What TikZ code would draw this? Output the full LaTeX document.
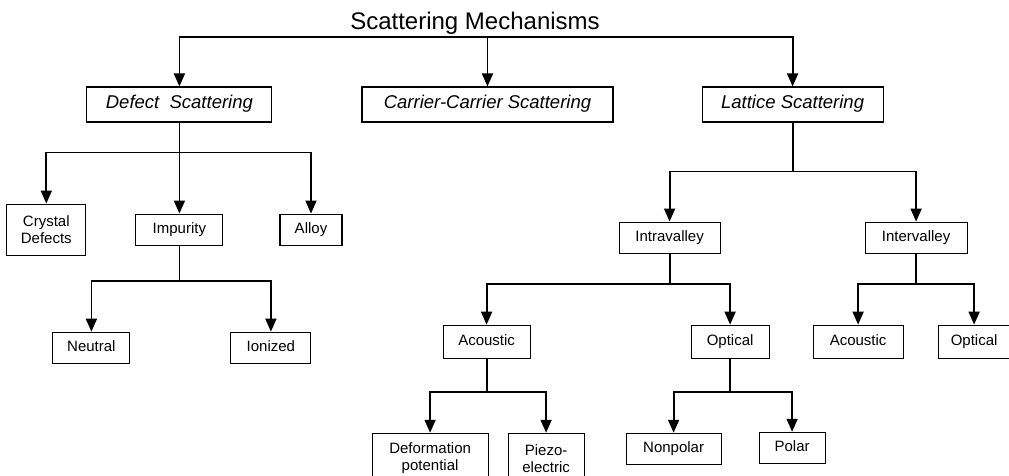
\documentclass[tikz,border=0pt]{standalone}
\usepackage{fontspec}
\setmainfont{Liberation Sans}
\usetikzlibrary{arrows.meta, positioning}
\tikzset{
  % Graph arrow style
  garr/.style={
    line width = 1.8pt,
    -{Triangle[width=11pt,length=13pt]}
  },
  % Stem without tip
  gstem/.style={
    line width = 1.8pt
  },
  % Boxes
  topbox/.style={
    draw, line width=1.1pt, inner sep=0pt,
    minimum height=35pt, text height=13pt, text depth=4pt,
    font=\fontsize{18.5}{20}\selectfont\itshape
  },
  subbox/.style={
    draw, line width=1.1pt, inner sep=0pt,
    minimum height=31pt, text height=11pt, text depth=3pt,
    font=\fontsize{15}{18}\selectfont
  },
  twobox/.style={
    draw, line width=1.1pt, inner sep=0pt,
    align=center,
    font=\fontsize{15}{17}\selectfont
  },
}

\begin{document}
\begin{tikzpicture}[x=1pt, y=-1pt]
          \path[clip] (0,0) rectangle (1009,476);

          \node (title) [inner sep=0pt, font=\fontsize{24}{26}\selectfont]
                at (475,23) {Scattering Mechanisms};

          % first row
          \node (carrier) [topbox
                          , minimum width=251pt
                          ] at (487.5,104.5)
                          {Carrier-Carrier Scattering};
          \node (defect) [topbox
                         , minimum width=185pt
                         , left=89pt of carrier
                         ]
                         {Defect \ Scattering};
          \node (lattice) [topbox
                          , minimum width=181pt
                          , right=88pt of carrier
                          ]
                          {Lattice Scattering};

          % defect branch
          \node (impurity) [subbox
                           , minimum width=87pt
                           , below=91pt of defect
                           ]
                           {Impurity};
          \node (crystal) [twobox
                          , minimum width=79pt
                          , minimum height=51pt
                          , left=49pt of impurity
                          ]
                          {Crystal\\Defects};
          \node (alloy) [subbox
                        , minimum width=62pt
                        , right=56pt of impurity
                        ]
                        {Alloy};
          \node (neutral) [subbox
                          , minimum width=77pt
                          , below=86pt of impurity
                          , xshift=-88pt
                          ]
                          {Neutral};
          \node (ionized) [subbox
                          , minimum width=80pt
                          , below=86pt of impurity
                          , xshift=91.5pt
                          ]
                          {Ionized};

          % lattice branch
          \node (intra) [subbox
                        , minimum width=101pt
                        , below=99pt of lattice
                        , xshift=-123pt
                        ]
                        {Intravalley};
          \node (inter) [subbox
                        , minimum width=102pt
                        , below=99pt of lattice
                        , xshift=123.5pt
                        ]
                        {Intervalley};
          \node (acoustic) [subbox
                           , minimum width=87pt
                           , minimum height=33pt
                           , below=71pt of intra
                           , xshift=-183pt
                           ]
                           {Acoustic};
          \node (optical) [subbox
                          , minimum width=78pt
                          , minimum height=33pt
                          , below=71pt of intra
                          , xshift=60.5pt
                          ]
                          {Optical};
          \node (acoustictwo) [subbox
                              , minimum width=90pt
                              , minimum height=33pt
                              , below=71pt of inter
                              , xshift=-58pt
                              ]
                              {Acoustic};
          \node (opticaltwo) [subbox
                             , minimum width=72pt
                             , minimum height=33pt
                             , below=71pt of inter
                             , xshift=58pt
                             ]
                             {Optical};
          \node (deform) [twobox
                         , minimum width=116pt
                         , minimum height=50pt
                         , below=74pt of acoustic
                         , xshift=-56.5pt
                         ]
                         {Deformation\\potential};
          \node (piezo) [twobox
                        , minimum width=76pt
                        , minimum height=50pt
                        , below=74pt of acoustic
                        , xshift=59.5pt
                        ]
                        {Piezo-\\electric};
          \node (nonpolar) [subbox
                           , minimum width=95pt
                           , below=74pt of optical
                           , xshift=-56.5pt
                           ]
                           {Nonpolar};
          \node (polar) [subbox
                        , minimum width=66pt
                        , below=73pt of optical
                        , xshift=62pt
                        ]
                        {Polar};

          % top level
          \path (carrier.north) ++(0,-49.5) coordinate (top);
          \draw[garr] (top) -| (defect.north);
          \draw[garr] (top) -- (carrier.north);
          \draw[garr] (top) -| (lattice.north);

          \draw[gstem] (defect.south) -- ++(0,30) coordinate (dj);
          \draw[garr] (dj) -| (crystal.north);
          \draw[garr] (dj) -- (impurity.north);
          \draw[garr] (dj) -| (alloy.north);

          \draw[gstem] (impurity.south) -- ++(0,35.5) coordinate (ij);
          \draw[garr] (ij) -| (neutral.north);
          \draw[garr] (ij) -| (ionized.north);

          \draw[gstem] (lattice.south) -- ++(0,49) coordinate (lj);
          \draw[garr] (lj) -| (intra.north);
          \draw[garr] (lj) -| (inter.north);

          \draw[gstem] (intra.south) -- ++(0,30) coordinate (aj);
          \draw[garr] (aj) -| (acoustic.north);
          \draw[garr] (aj) -| (optical.north);

          \draw[gstem] (inter.south) -- ++(0,30) coordinate (ej);
          \draw[garr] (ej) -| (acoustictwo.north);
          \draw[garr] (ej) -| (opticaltwo.north);

          \draw[gstem] (acoustic.south) -- ++(0,33) coordinate (cj);
          \draw[garr] (cj) -| (deform.north);
          \draw[garr] (cj) -| (piezo.north);

          \draw[gstem] (optical.south) -- ++(0,33) coordinate (oj);
          \draw[garr] (oj) -| (nonpolar.north);
          \draw[garr] (oj) -| (polar.north);
      \end{tikzpicture}
\end{document}
